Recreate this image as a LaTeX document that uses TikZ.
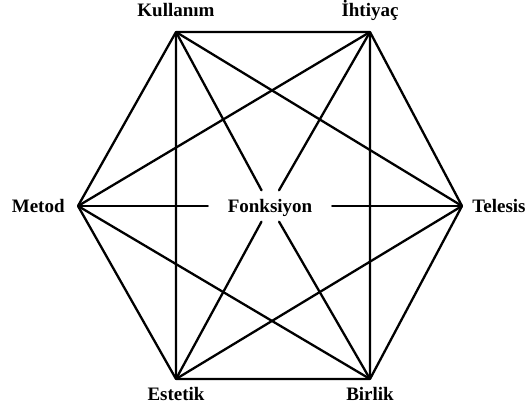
\documentclass[tikz,border=0pt]{standalone}
\usepackage{fontspec}
\setmainfont{Liberation Serif}
\usetikzlibrary{positioning}

\begin{document}
\begin{tikzpicture}[
  x=1pt,
  y=1pt,
  corner/.style={
    inner sep=0pt,
    minimum size=0pt
  },
  tag/.style={
    inner sep=0pt,
    font=\fontsize{19}{22}\selectfont\bfseries
  },
  hub/.style={
    inner sep=0pt,
    minimum width=124pt,
    minimum height=31pt,
    text depth=0pt,
    font=\fontsize{19}{22}\selectfont\bfseries
  },
  edge/.style={line width=2.3pt,line cap=round,line join=round}
]
  \useasboundingbox (0,0) rectangle (527,407);
  \node[corner] (kullanim) at (176,375) {};
  \node[corner] (ihtiyac) at (370,375) {};
  \node[corner] (telesis) at (462,201) {};
  \node[corner] (birlik) at (370,28) {};
  \node[corner] (estetik) at (176,28) {};
  \node[corner] (metod) at (78,201) {};
  \node[hub] (fonksiyon) at (270,201) {Fonksiyon};
  \node[tag,above=15pt of kullanim,anchor=base] (kullanimLabel) {Kullanım};
  \node[tag,above=15pt of ihtiyac,anchor=base] (ihtiyacLabel) {İhtiyaç};
  \node[tag,right=10pt of telesis] (telesisLabel) {Telesis};
  \node[tag,below=21pt of birlik,anchor=base] (birlikLabel) {Birlik};
  \node[tag,below=21pt of estetik,anchor=base] (estetikLabel) {Estetik};
  \node[tag,left=13pt of metod] (metodLabel) {Metod};
  \draw[edge] (kullanim) -- (ihtiyac) -- (telesis) -- (birlik) -- (estetik) -- (metod) -- (kullanim);
  \draw[edge] (kullanim) -- (telesis) -- (estetik) -- (kullanim);
  \draw[edge] (ihtiyac) -- (birlik) -- (metod) -- (ihtiyac);
  \draw[edge] (kullanim) -- (fonksiyon);
  \draw[edge] (fonksiyon) -- (birlik);
  \draw[edge] (ihtiyac) -- (fonksiyon);
  \draw[edge] (fonksiyon) -- (estetik);
  \draw[edge] (metod) -- (fonksiyon);
  \draw[edge] (fonksiyon) -- (telesis);
\end{tikzpicture}
\end{document}
